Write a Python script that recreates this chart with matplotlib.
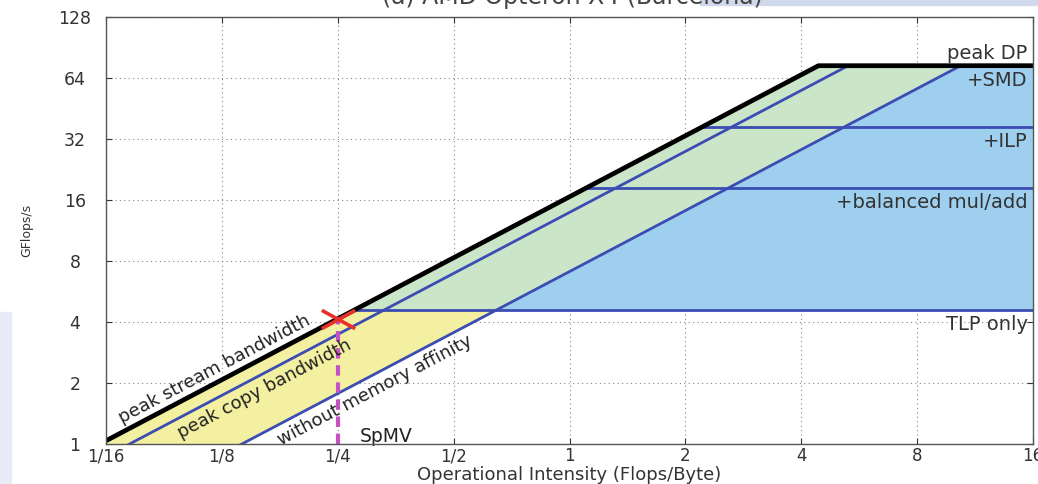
import numpy as np
import matplotlib
matplotlib.use("Agg")
import matplotlib.pyplot as plt
from matplotlib.path import Path
from matplotlib.patches import Rectangle

# roofline numbers (GFlops/s and GB/s)
peak_dp = 73.6
ceilings = [73.6, 36.8, 18.4, 4.6]
ceiling_labels = ["+SMD", "+ILP", "+balanced mul/add", "TLP only"]
stream_bw = 16.6
copy_bw = 13.9
noaff_bw = 7.1
spmv_oi = 0.25

x_ticks = [1/16, 1/8, 1/4, 1/2, 1, 2, 4, 8, 16]
x_labels = ["1/16", "1/8", "1/4", "1/2", "1", "2", "4", "8", "16"]
y_ticks = [1, 2, 4, 8, 16, 32, 64, 128]
y_labels = ["1", "2", "4", "8", "16", "32", "64", "128"]

blue = "#3b4db3"
green = "#cbe5c9"
lightblue = "#9fcfee"
yellow = "#f4f0a2"

fig = plt.figure(figsize=(10.38, 4.84), dpi=100)
W, H = 1038, 484
ax = fig.add_axes([106/W, 1-444/H, (1033-106)/W, (444-17)/H])
ax.set_xscale("log", base=2)
ax.set_yscale("log", base=2)
ax.set_xlim(1/16, 16)
ax.set_ylim(1, 128)

# slide background bits around the figure
fig.patches.append(Rectangle((700/W, 1-5/H), 1, 5/H, transform=fig.transFigure,
                             color="#d0d8ec", zorder=-5))
fig.patches.append(Rectangle((0, 0), 11/W, 1-312/H, transform=fig.transFigure,
                             color="#e8ecf6", zorder=-5))

xs = np.geomspace(1/16, 16, 3000)
roof = np.minimum(stream_bw*xs, peak_dp)
aff = np.minimum(noaff_bw*xs, peak_dp)
tlp = ceilings[-1]

# shaded regions
lo = np.maximum(aff, 1)
hi = np.minimum(roof, tlp)
ax.fill_between(xs, lo, hi, where=hi > lo, color=yellow, lw=0, zorder=1)
lo = np.maximum(aff, tlp)
ax.fill_between(xs, lo, roof, where=roof > lo, color=green, lw=0, zorder=1)
ax.fill_between(xs, tlp, aff, where=aff > tlp, color=lightblue, lw=0, zorder=1)

# bandwidth lines
ax.plot(xs, np.minimum(copy_bw*xs, peak_dp), color=blue, lw=2, zorder=3)
ax.plot(xs, aff, color=blue, lw=2, zorder=3)
for c in ceilings[1:]:
    ax.plot([c/stream_bw, 16], [c, c], color=blue, lw=2, zorder=3)
ax.plot(xs, roof, color="black", lw=3.4, zorder=4, solid_capstyle="butt")

# SpMV
spmv_perf = stream_bw*spmv_oi
ax.plot([spmv_oi, spmv_oi], [1, spmv_perf], color="#c552c2", lw=3,
        ls=(0, (2.5, 1.6)), zorder=5)
xm = Path([(-1, -0.55), (1, 0.55), (-1, 0.55), (1, -0.55)],
          [Path.MOVETO, Path.LINETO, Path.MOVETO, Path.LINETO])
ax.plot([spmv_oi], [spmv_perf], marker=xm, ms=24, mew=2.6, color="#e8302a",
        zorder=6, clip_on=False)
ax.text(0.286, 1.095, "SpMV", fontsize=13.5, color="#222222", va="center",
        ha="left", zorder=6)

# grid and frame
ax.set_xticks(x_ticks)
ax.set_xticklabels(x_labels)
ax.set_yticks(y_ticks)
ax.set_yticklabels(y_labels, ha="center")
ax.minorticks_off()
ax.grid(True, ls=(0, (1, 3)), color="#888888", lw=0.8, zorder=0)
ax.set_axisbelow(True)
ax.tick_params(direction="in", length=4, top=True, right=True, labelsize=12.5,
               colors="#333333")
ax.tick_params(axis="x", pad=2.5, labelsize=12)
ax.tick_params(axis="y", pad=22.3)
for s in ax.spines.values():
    s.set_color("#555555")
    s.set_linewidth(1)
    s.set_zorder(7)

ax.set_xlabel("Operational Intensity (Flops/Byte)", fontsize=13,
              color="#333333")
ax.xaxis.set_label_coords(0.5, -(465.5-444)/427)
ax.set_ylabel("GFlops/s", fontsize=9, color="#333333")
ax.yaxis.set_label_coords(-(106-33)/927, 0.5)

# ceiling labels
ax.text(15.5, peak_dp*1.03, "peak DP", fontsize=14, ha="right", va="bottom",
        color="#333333", zorder=6)
for c, lab in zip(ceilings, ceiling_labels):
    ax.text(15.5, c/1.06, lab, fontsize=14, ha="right", va="top",
            color="#333333", zorder=6)

# slanted labels along the bandwidth lines
p1 = ax.transData.transform((1/16, stream_bw/16))
p2 = ax.transData.transform((1, stream_bw))
ang = np.degrees(np.arctan2(p2[1]-p1[1], p2[0]-p1[0]))
nx, ny = -np.sin(np.radians(ang)), np.cos(np.radians(ang))


def slant(x, bw, txt, d):
    ax.annotate(txt, (x, bw*x), xytext=(nx*d, ny*d), textcoords="offset points",
                rotation=ang, rotation_mode="anchor", ha="center",
                va="bottom" if d > 0 else "top", fontsize=13,
                color="#222222", zorder=6)


slant(0.124, stream_bw, "peak stream bandwidth", 2.5)
slant(0.155, copy_bw, "peak copy bandwidth", -4)
slant(0.300, noaff_bw, "without memory affinity", -4)

# title, mostly cut off at the top edge
fig.text(0.551, 1-4/H, "(a) AMD Opteron X4 (Barcelona)", fontsize=17,
         ha="center", va="baseline", color="#444444")

fig.savefig("out.png", dpi=100)
